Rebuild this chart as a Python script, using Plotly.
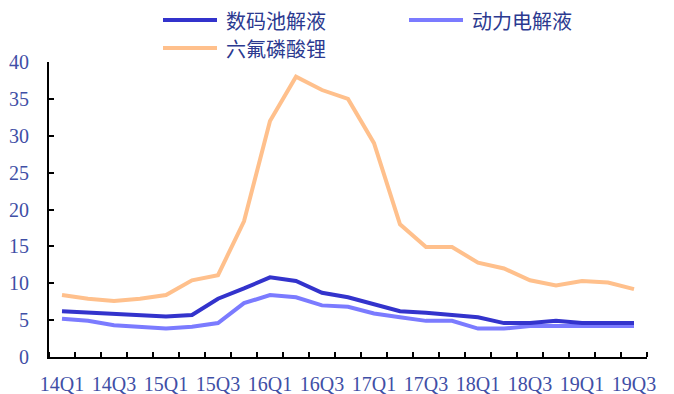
import plotly.graph_objects as go

# Quarterly price series (万元/吨)
quarters = ["14Q1", "14Q2", "14Q3", "14Q4", "15Q1", "15Q2", "15Q3", "15Q4",
            "16Q1", "16Q2", "16Q3", "16Q4", "17Q1", "17Q2", "17Q3", "17Q4",
            "18Q1", "18Q2", "18Q3", "18Q4", "19Q1", "19Q2", "19Q3"]
digital_electrolyte = [6.2, 6.0, 5.8, 5.6, 5.5, 5.7, 7.9, 9.3, 10.8, 10.3, 8.7, 8.1,
                       7.1, 6.2, 6.0, 5.7, 5.4, 4.6, 4.6, 4.9, 4.6, 4.6, 4.6]
power_electrolyte = [5.2, 4.9, 4.3, 4.1, 3.85, 4.1, 4.6, 7.3, 8.4, 8.1, 7.0, 6.8,
                     5.9, 5.4, 4.9, 4.9, 3.85, 3.85, 4.2, 4.2, 4.2, 4.2, 4.2]
lipf6 = [8.4, 7.9, 7.6, 7.9, 8.4, 10.4, 11.1, 18.4, 32.0, 38.0, 36.2, 35.0,
         29.0, 18.0, 14.9, 14.9, 12.8, 12.0, 10.4, 9.7, 10.3, 10.1, 9.2]
series_names = ["数码池解液", "动力电解液", "六氟磷酸锂"]
y_ticks = [0, 5, 10, 15, 20, 25, 30, 35, 40]

colors = ["#3333CC", "#7B7BFF", "#FFC08C"]
label_color = "#3F4FA6"
legend_color = "#2B3990"

W, H = 674, 394
L, R, T, B = 49, 27, 62, 37
plot_w, plot_h = W - L - R, H - T - B

xs = list(range(len(quarters)))
fig = go.Figure()
# draw the peach series first so the blue lines sit on top
for name, ys, col in [(series_names[2], lipf6, colors[2]),
                      (series_names[1], power_electrolyte, colors[1]),
                      (series_names[0], digital_electrolyte, colors[0])]:
    fig.add_trace(go.Scatter(x=xs, y=ys, mode="lines", name=name,
                             line=dict(color=col, width=4), showlegend=False))

fig.update_layout(
    width=W, height=H,
    margin=dict(l=L, r=R, t=T, b=B, pad=0, autoexpand=False),
    paper_bgcolor="white", plot_bgcolor="white",
    font=dict(family="Liberation Serif, serif", size=20, color=label_color),
)
fig.update_xaxes(
    automargin=False,
    range=[-0.5, len(quarters) - 0.5],
    tickmode="array", tickvals=xs[::2], ticktext=quarters[::2],
    ticks="", showgrid=False, zeroline=False,
    showline=True, linecolor="black", linewidth=2,
    ticklabelstandoff=8,
    minor=dict(tickmode="linear", tick0=-0.5, dtick=1, ticks="inside",
               ticklen=5, tickwidth=2, tickcolor="black", showgrid=False),
)
fig.update_yaxes(
    automargin=False,
    range=[0, 40], tickmode="array", tickvals=y_ticks,
    ticks="inside", ticklen=5, tickwidth=2, tickcolor="black",
    showgrid=False, zeroline=False,
    showline=True, linecolor="black", linewidth=2,
    ticklabelstandoff=14,
)

# legend drawn as line samples and labels above the plot
def px_x(px):
    return (px - L) / plot_w

def px_y(py):
    return (H - B - py) / plot_h

legend_items = [(series_names[0], colors[0], 163, 20),
                (series_names[1], colors[1], 409, 20),
                (series_names[2], colors[2], 163, 48)]
for name, col, x0, yc in legend_items:
    fig.add_shape(type="line", xref="paper", yref="paper",
                  x0=px_x(x0), x1=px_x(x0 + 54), y0=px_y(yc), y1=px_y(yc),
                  line=dict(color=col, width=4))
    fig.add_annotation(xref="paper", yref="paper", x=px_x(x0 + 61), y=px_y(yc),
                       text=name, showarrow=False, xanchor="left", yanchor="middle",
                       font=dict(family="Noto Sans CJK SC", size=20, color=legend_color))

fig.write_html("out.html")
